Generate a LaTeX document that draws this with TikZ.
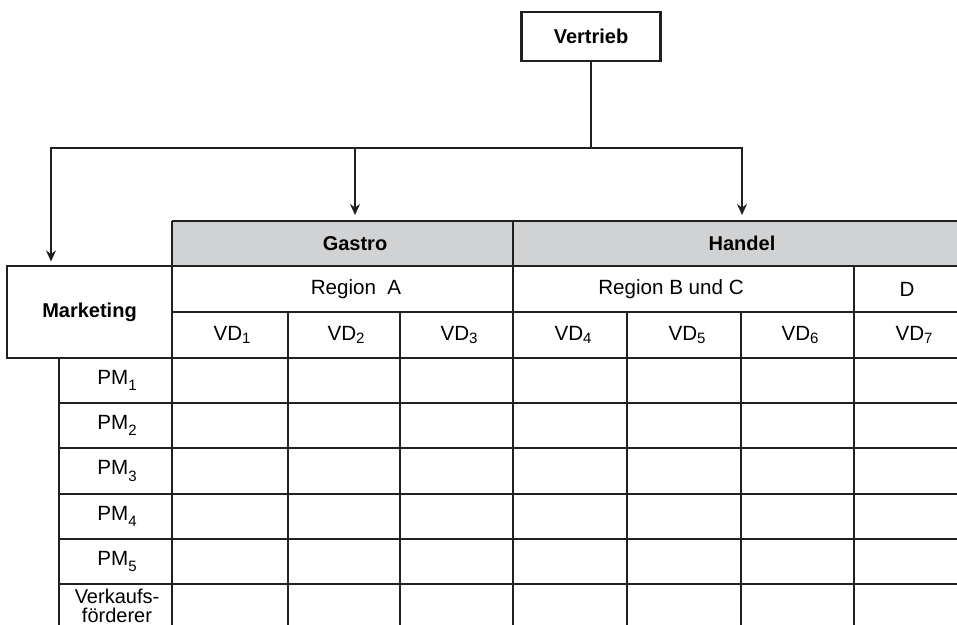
\documentclass[tikz,border=0pt]{standalone}
\usepackage{fontspec}
\setmainfont{Liberation Sans}
\usetikzlibrary{arrows.meta}
\definecolor{kopfgrau}{RGB}{209,210,212}
\definecolor{strich}{RGB}{35,31,32}
\newcommand{\vdsub}[1]{\raisebox{-0.25ex}{\fontsize{7.5}{9}\selectfont #1}}
\newcommand{\pmsub}[1]{\raisebox{-0.6ex}{\fontsize{7.5}{9}\selectfont #1}}

\begin{document}
\begin{tikzpicture}[x=0.5pt,y=-0.5pt,font=\fontsize{10.3}{12}\selectfont,
    duenn/.style={line width=0.55pt, draw=strich},
    dick/.style={line width=1.3pt, draw=strich},
    pfeil/.style={->, >={Stealth[length=5.5pt,width=5pt]}, line width=0.6pt, draw=strich, shorten >=2pt}]
        \path[use as bounding box] (0,0) rectangle (957,625);
        \clip (0,0) rectangle (957,625);

        % Vertrieb und Marketing
        \node[draw=strich, line width=1.2pt, minimum width=69.5pt, minimum height=24.5pt, font=\bfseries] (vertrieb) at (591,36.5) {Vertrieb};
        \node[duenn, draw, minimum width=82.5pt, minimum height=46pt, inner sep=0pt, font=\bfseries] (marketing) at (89.5,312) {Marketing};

        % Kopfzeile der Tabelle
        \fill[kopfgrau] (172,221) rectangle (968,266);
        \node[font=\bfseries] (gastro) at (355,243.5) {Gastro};
        \node[font=\bfseries] (handel) at (742,243.5) {Handel};

        % Verbindungen
        \coordinate (knick) at (591,148);
        \coordinate (links) at (51,148);
        \coordinate (tabtop) at (172,221);
        \draw[duenn] (vertrieb) -- (knick);
        \draw[pfeil] (knick) -| (marketing.north -| links);
        \draw[pfeil, shorten >=3pt] (knick) -| (gastro |- tabtop);
        \draw[pfeil, shorten >=3pt] (knick) -| (handel |- tabtop);

        % duenne Linien
        \draw[duenn] (172,266) -- (968,266);
        \draw[duenn] (172,312) -- (968,312);
        \draw[duenn] (172,358) -- (968,358);
        \foreach \y in {403,448,494,539,584}
            \draw[duenn] (59,\y) -- (968,\y);
        \draw[duenn] (59,358) -- (59,640);
        \foreach \x in {288,400,627,741}
            \draw[duenn] (\x,312) -- (\x,640);

        % dicke Linien
        \draw[dick] (172,221) -- (968,221);
        \draw[dick] (172,221) -- (172,640);
        \draw[dick] (513,221) -- (513,640);
        \draw[dick] (854,266) -- (854,640);
        \draw[dick] (968,221) -- (968,640);

        % Regionen
        \node (rega) at (356,289) {Region\ \ A};
        \node (regbc) at (671,289) {Region B und C};
        \node (regd) at (907,289) {D};

        % Verkaufsdirektoren
        \foreach \x [count=\i] in {232,346,459,573,687,800,914}
            \node (vd\i) at (\x,335) {VD\vdsub{\i}};

        % Produktmanager
        \foreach \y [count=\i] in {380.5,425.5,471,516.5,561.5}
            \node (pm\i) at (117,\y) {PM\pmsub{\i}};
        \node[align=center, inner sep=0pt, anchor=north, font=\fontsize{10}{9.5}\selectfont] (vkf) at (117,589) {Verkaufs-\\förderer};

    \end{tikzpicture}
\end{document}
